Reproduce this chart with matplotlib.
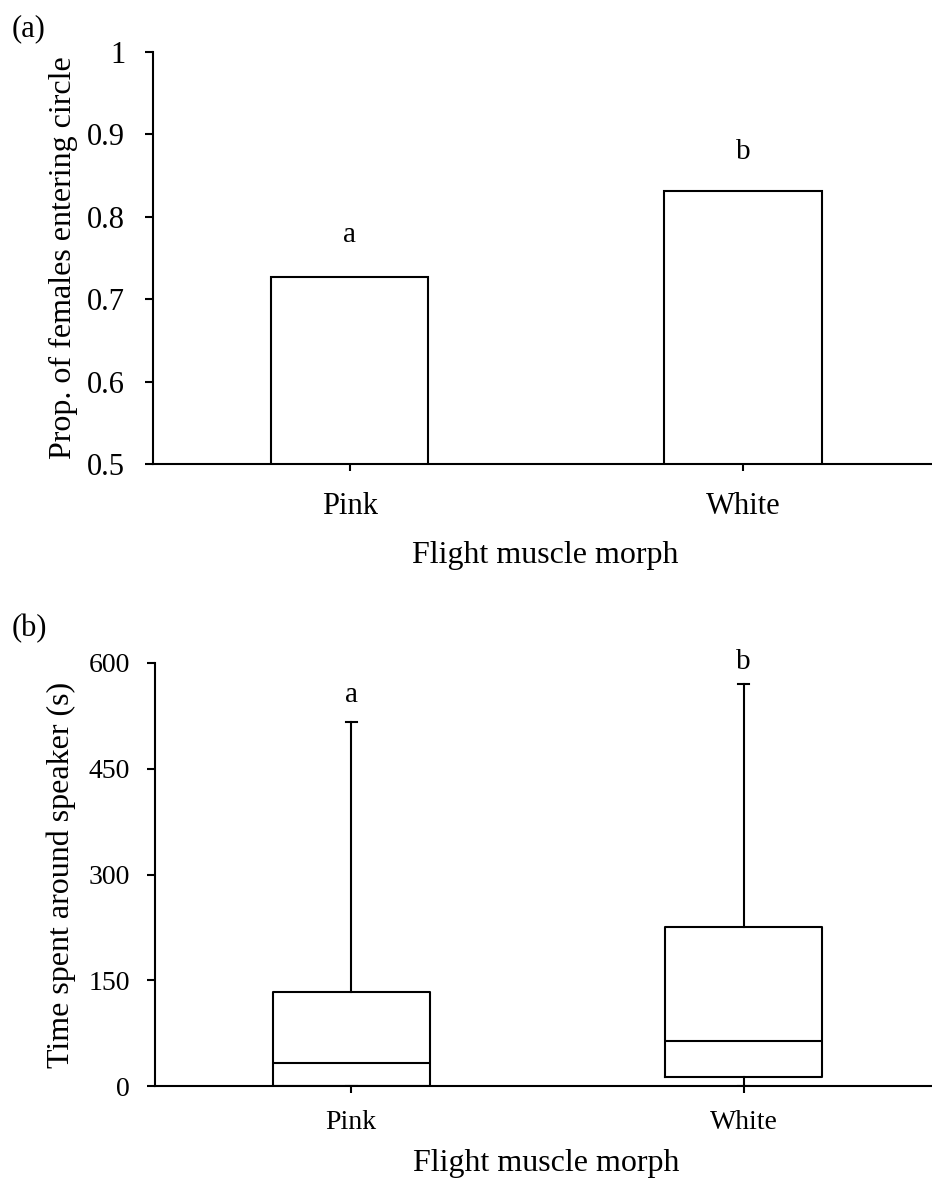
import numpy as np
import matplotlib.pyplot as plt

plt.rcParams['font.family'] = 'Liberation Serif'

# data
morphs = ['Pink', 'White']
prop_entering = [0.727, 0.831]
prop_letters = ['a', 'b']
prop_letter_y = [0.778, 0.879]

time_whislo = [0, 0]
time_q1 = [0, 13]
time_med = [32, 64]
time_q3 = [133, 226]
time_whishi = [517, 570]
time_letters = ['a', 'b']
time_letter_y = [555, 601]

prop_ticks = [0.5, 0.6, 0.7, 0.8, 0.9, 1.0]
prop_ticklabels = ['0.5', '0.6', '0.7', '0.8', '0.9', '1']
time_ticks = [0, 150, 300, 450, 600]

lw = 1.5
xpos = np.arange(len(morphs))

fig = plt.figure(figsize=(9.32, 11.86), dpi=100)

def style_axes(ax, tick_size, ypad, xpad):
    for s in ['top', 'right']:
        ax.spines[s].set_visible(False)
    for s in ['left', 'bottom']:
        ax.spines[s].set_linewidth(lw)
    ax.tick_params(axis='y', direction='out', length=6, width=lw,
                   labelsize=tick_size, pad=ypad)
    ax.tick_params(axis='x', direction='out', length=5, width=lw,
                   labelsize=tick_size, pad=xpad)
    ax.set_xticks(xpos)
    ax.set_xticklabels(morphs)
    ax.set_xlim(-0.5, 1.48)

# (a) proportion of females entering circle
ax1 = fig.add_axes([153 / 932, 1 - 464 / 1186, 779 / 932, 412 / 1186])
ax1.bar(xpos, np.array(prop_entering) - 0.5, bottom=0.5, width=0.4,
        color='white', edgecolor='black', linewidth=lw, zorder=3)
for x, y, t in zip(xpos, prop_letter_y, prop_letters):
    ax1.text(x, y, t, ha='center', va='center', fontsize=21)
ax1.set_ylim(0.5, 1.0)
ax1.set_yticks(prop_ticks)
ax1.set_yticklabels(prop_ticklabels)
style_axes(ax1, 22, 14, 15)
ax1.set_ylabel('Prop. of females entering circle', fontsize=23, va='center')
ax1.yaxis.set_label_coords(-0.1155, 0.5)
ax1.set_xlabel('Flight muscle morph', fontsize=23, va='center')
ax1.xaxis.set_label_coords(0.504, -0.221)
fig.text(12 / 932, 1 - 29 / 1186, '(a)', fontsize=22, ha='left', va='center')

# (b) time spent around speaker
ax2 = fig.add_axes([155 / 932, 1 - 1086 / 1186, 777 / 932, 423 / 1186])
stats = []
for i in range(len(morphs)):
    stats.append({'whislo': time_whislo[i], 'q1': time_q1[i], 'med': time_med[i],
                  'q3': time_q3[i], 'whishi': time_whishi[i], 'fliers': []})
line_kw = dict(color='black', linewidth=lw)
ax2.bxp(stats, positions=xpos, widths=0.4, showfliers=False, capwidths=0.028,
        boxprops=line_kw, whiskerprops=line_kw, capprops=line_kw,
        medianprops=line_kw, manage_ticks=False)
for x, y, t in zip(xpos, time_letter_y, time_letters):
    ax2.text(x, y, t, ha='center', va='center', fontsize=21, clip_on=False)
ax2.set_ylim(0, 600)
ax2.set_yticks(time_ticks)
style_axes(ax2, 20, 12, 12)
ax2.set_ylabel('Time spent around speaker (s)', fontsize=23, va='center')
ax2.yaxis.set_label_coords(-0.121, 0.5)
ax2.set_xlabel('Flight muscle morph', fontsize=23, va='center')
ax2.xaxis.set_label_coords(0.503, -0.184)
fig.text(12 / 932, 1 - 629 / 1186, '(b)', fontsize=22, ha='left', va='center')

fig.savefig('out.png', dpi=100)
